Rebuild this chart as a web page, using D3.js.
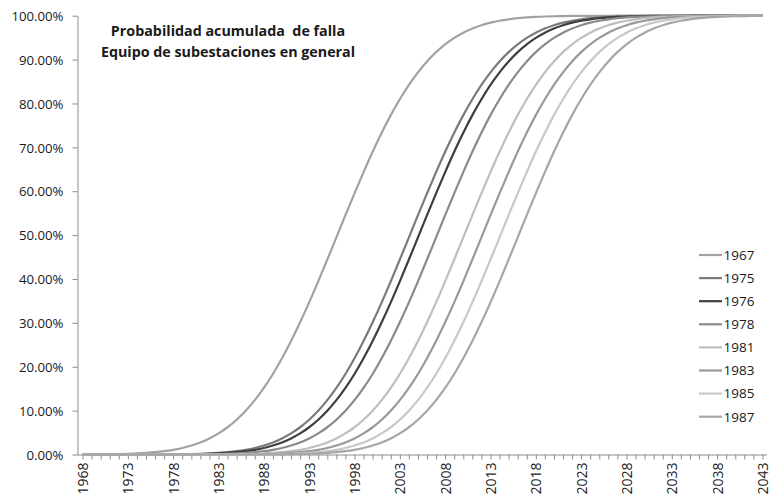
<!DOCTYPE html>
<html>
<head>
<meta charset="utf-8">
<script src="https://cdn.jsdelivr.net/npm/d3@7"></script>
<style>
  html, body { margin: 0; padding: 0; background: #fff; }
  svg { display: block; }
  text { font-family: "Open Sans", "Liberation Sans", sans-serif; fill: #1a1a1a; }
</style>
</head>
<body>
<script>
// Years on the category axis
const years = [
  1968,1969,1970,1971,1972,1973,1974,1975,1976,1977,1978,1979,1980,1981,1982,1983,1984,1985,1986,1987,
  1988,1989,1990,1991,1992,1993,1994,1995,1996,1997,1998,1999,2000,2001,2002,2003,2004,2005,2006,2007,
  2008,2009,2010,2011,2012,2013,2014,2015,2016,2017,2018,2019,2020,2021,2022,2023,2024,2025,2026,2027,
  2028,2029,2030,2031,2032,2033,2034,2035,2036,2037,2038,2039,2040,2041,2042,2043
];

// Labelled years on the x axis
const yearLabels = [1968,1973,1978,1983,1988,1993,1998,2003,2008,2013,2018,2023,2028,2033,2038,2043];

// Y tick values (fraction of 1)
const yTicks = [0,0.1,0.2,0.3,0.4,0.5,0.6,0.7,0.8,0.9,1.0];

// Series names (installation year)
const seriesNames = ["1967","1975","1976","1978","1981","1983","1985","1987"];

// Cumulative failure probability (%) for each year 1968..2043
const p1967 = [
  0.02,0.03,0.05,0.07,0.11,0.17,0.25,0.37,0.53,0.76,
  1.07,1.49,2.04,2.75,3.66,4.80,6.21,7.93,9.97,12.38,
  15.17,18.35,21.92,25.85,30.12,34.68,39.47,44.43,49.48,54.54,
  59.52,64.36,69.00,73.33,77.34,80.97,84.23,87.10,89.58,91.70,
  93.47,94.94,96.13,97.08,97.83,98.41,98.85,99.18,99.43,99.60,
  99.73,99.82,99.88,99.92,99.95,99.97,99.98,99.99,99.99,100,
  100,100,100,100,100,100,100,100,100,100,100,100,100,100,100,100
];
const p1975 = [
  0,0,0,0,0,0,0,0,
  0.02,0.03,0.05,0.07,0.11,0.17,0.25,0.37,0.53,0.76,
  1.07,1.49,2.04,2.75,3.66,4.80,6.21,7.93,9.97,12.38,
  15.17,18.35,21.92,25.85,30.12,34.68,39.47,44.43,49.48,54.54,
  59.52,64.36,69.00,73.33,77.34,80.97,84.23,87.10,89.58,91.70,
  93.47,94.94,96.13,97.08,97.83,98.41,98.85,99.18,99.43,99.60,
  99.73,99.82,99.88,99.92,99.95,99.97,99.98,99.99,99.99,
  100,100,100,100,100,100,100,100,100
];
const p1976 = [
  0,0,0,0,0,0,0,0,0,
  0.02,0.03,0.05,0.07,0.11,0.17,0.25,0.37,0.53,0.76,
  1.07,1.49,2.04,2.75,3.66,4.80,6.21,7.93,9.97,12.38,
  15.17,18.35,21.92,25.85,30.12,34.68,39.47,44.43,49.48,54.54,
  59.52,64.36,69.00,73.33,77.34,80.97,84.23,87.10,89.58,91.70,
  93.47,94.94,96.13,97.08,97.83,98.41,98.85,99.18,99.43,99.60,
  99.73,99.82,99.88,99.92,99.95,99.97,99.98,99.99,99.99,
  100,100,100,100,100,100,100,100
];
const p1978 = [
  0,0,0,0,0,0,0,0,0,0,0,
  0.02,0.03,0.05,0.07,0.11,0.17,0.25,0.37,0.53,0.76,
  1.07,1.49,2.04,2.75,3.66,4.80,6.21,7.93,9.97,12.38,
  15.17,18.35,21.92,25.85,30.12,34.68,39.47,44.43,49.48,54.54,
  59.52,64.36,69.00,73.33,77.34,80.97,84.23,87.10,89.58,91.70,
  93.47,94.94,96.13,97.08,97.83,98.41,98.85,99.18,99.43,99.60,
  99.73,99.82,99.88,99.92,99.95,99.97,99.98,99.99,99.99,
  100,100,100,100,100,100
];
const p1981 = [
  0,0,0,0,0,0,0,0,0,0,0,0,0,0,
  0.02,0.03,0.05,0.07,0.11,0.17,0.25,0.37,0.53,0.76,
  1.07,1.49,2.04,2.75,3.66,4.80,6.21,7.93,9.97,12.38,
  15.17,18.35,21.92,25.85,30.12,34.68,39.47,44.43,49.48,54.54,
  59.52,64.36,69.00,73.33,77.34,80.97,84.23,87.10,89.58,91.70,
  93.47,94.94,96.13,97.08,97.83,98.41,98.85,99.18,99.43,99.60,
  99.73,99.82,99.88,99.92,99.95,99.97,99.98,99.99,99.99,
  100,100,100
];
const p1983 = [
  0,0,0,0,0,0,0,0,0,0,0,0,0,0,0,0,
  0.02,0.03,0.05,0.07,0.11,0.17,0.25,0.37,0.53,0.76,
  1.07,1.49,2.04,2.75,3.66,4.80,6.21,7.93,9.97,12.38,
  15.17,18.35,21.92,25.85,30.12,34.68,39.47,44.43,49.48,54.54,
  59.52,64.36,69.00,73.33,77.34,80.97,84.23,87.10,89.58,91.70,
  93.47,94.94,96.13,97.08,97.83,98.41,98.85,99.18,99.43,99.60,
  99.73,99.82,99.88,99.92,99.95,99.97,99.98,99.99,99.99,
  100
];
const p1985 = [
  0,0,0,0,0,0,0,0,0,0,0,0,0,0,0,0,0,0,
  0.02,0.03,0.05,0.07,0.11,0.17,0.25,0.37,0.53,0.76,
  1.07,1.49,2.04,2.75,3.66,4.80,6.21,7.93,9.97,12.38,
  15.17,18.35,21.92,25.85,30.12,34.68,39.47,44.43,49.48,54.54,
  59.52,64.36,69.00,73.33,77.34,80.97,84.23,87.10,89.58,91.70,
  93.47,94.94,96.13,97.08,97.83,98.41,98.85,99.18,99.43,99.60,
  99.73,99.82,99.88,99.92,99.95,99.97,99.98,99.99
];
const p1987 = [
  0,0,0,0,0,0,0,0,0,0,0,0,0,0,0,0,0,0,0,0,
  0.02,0.03,0.05,0.07,0.11,0.17,0.25,0.37,0.53,0.76,
  1.07,1.49,2.04,2.75,3.66,4.80,6.21,7.93,9.97,12.38,
  15.17,18.35,21.92,25.85,30.12,34.68,39.47,44.43,49.48,54.54,
  59.52,64.36,69.00,73.33,77.34,80.97,84.23,87.10,89.58,91.70,
  93.47,94.94,96.13,97.08,97.83,98.41,98.85,99.18,99.43,99.60,
  99.73,99.82,99.88,99.92,99.95,99.97
];

const seriesValues = [p1967, p1975, p1976, p1978, p1981, p1983, p1985, p1987];
const seriesColors = ["#a2a2a2","#7a7a7a","#3e3e3e","#8a8a8a","#bebebe","#999999","#c8c8c8","#a6a6a6"];

const W = 772, H = 499;
const plot = { left: 78, right: 767, top: 15.7, bottom: 454.5 };

const svg = d3.select("body").append("svg")
  .attr("width", W).attr("height", H)
  .attr("viewBox", `0 0 ${W} ${H}`);

svg.append("rect").attr("width", W).attr("height", H).attr("fill", "#fff");

const x = d3.scalePoint().domain(years).range([plot.left, plot.right]).padding(0.5);
const y = d3.scaleLinear().domain([0, 1]).range([plot.bottom, plot.top]);

// Y axis
const yAxis = svg.append("g")
  .attr("transform", `translate(${plot.left - 0.5},0)`)
  .call(d3.axisLeft(y).tickValues(yTicks).tickFormat(d3.format(".2%")).tickSize(5).tickSizeOuter(0).tickPadding(9));
yAxis.select(".domain").attr("stroke", "#8c8c8c");
yAxis.selectAll(".tick line").attr("stroke", "#8c8c8c");
yAxis.selectAll(".tick text")
  .style("font-size", "13.2px")
  .style("font-family", "\"Open Sans\", sans-serif")
  .attr("fill", "#1a1a1a")
  .attr("dy", "0.36em");

// X axis: a tick on every year, a label every fifth year
const xAxis = svg.append("g")
  .attr("transform", `translate(0,${plot.bottom})`)
  .call(d3.axisBottom(x).tickValues(years).tickSize(5).tickSizeOuter(0)
    .tickFormat(d => yearLabels.includes(d) ? String(d) : ""));
xAxis.select(".domain").attr("stroke", "#8c8c8c")
  .attr("d", `M${plot.left - 0.5},0.5H${plot.right}`);
xAxis.selectAll(".tick line").attr("stroke", "#8c8c8c");
xAxis.selectAll(".tick text")
  .style("font-size", "14px")
  .style("font-family", "\"Open Sans\", sans-serif")
  .attr("fill", "#1a1a1a")
  .attr("transform", "rotate(-90)")
  .attr("text-anchor", "end")
  .attr("x", -8)
  .attr("y", 0)
  .attr("dy", "0.36em");

// Curves
const line = d3.line()
  .x((d, i) => x(years[i]))
  .y(d => y(d / 100))
  .curve(d3.curveMonotoneX);

svg.append("g").selectAll("path")
  .data(seriesValues)
  .join("path")
  .attr("d", d => line(d))
  .attr("fill", "none")
  .attr("stroke", (d, i) => seriesColors[i])
  .attr("stroke-width", 2.2)
  .attr("stroke-linejoin", "round");

// Title
const title = svg.append("text")
  .attr("text-anchor", "middle")
  .style("font-weight", "bold")
  .style("font-size", "14.3px");
title.append("tspan").attr("x", 228).attr("y", 36).text("Probabilidad acumulada  de falla").attr("xml:space", "preserve");
title.append("tspan").attr("x", 228).attr("y", 57).text("Equipo de subestaciones en general");

// Legend
const legend = svg.append("g");
seriesNames.forEach((name, i) => {
  const ly = 255 + i * 23.1;
  legend.append("line")
    .attr("x1", 699).attr("x2", 722)
    .attr("y1", ly).attr("y2", ly)
    .attr("stroke", seriesColors[i]).attr("stroke-width", 2.2);
  legend.append("text")
    .attr("x", 723.5).attr("y", ly)
    .attr("dy", "0.36em")
    .style("font-size", "13.5px")
    .text(name);
});
</script>
</body>
</html>
